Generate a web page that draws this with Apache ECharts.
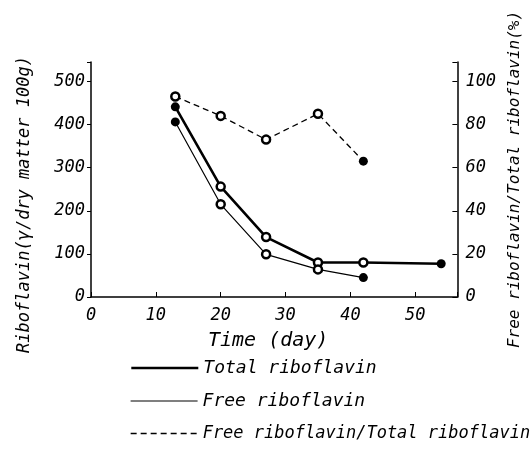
<!DOCTYPE html>
<html>
<head>
<meta charset="utf-8">
<script src="https://cdn.jsdelivr.net/npm/echarts@6/dist/echarts.min.js"></script>
<style>
  html, body { margin: 0; padding: 0; background: #fff; }
  #main { width: 531px; height: 450px; }
</style>
</head>
<body>
<div id="main"></div>
<script>
  // values
  const totalDays = [13, 20, 27, 35, 42, 54];
  const totalRiboflavin = [441, 256, 139, 80, 80, 77];
  const freeDays = [13, 20, 27, 35, 42];
  const freeRiboflavin = [406, 215, 99, 64, 45];
  const ratioDays = [13, 20, 27, 35, 42];
  const ratioPercent = [93, 84, 73, 85, 63];

  const xTicks = [0, 10, 20, 30, 40, 50];
  const leftTicks = [0, 100, 200, 300, 400, 500];
  const rightTicks = [0, 20, 40, 60, 80, 100];
  const seriesNames = ['Total riboflavin', 'Free riboflavin', 'Free riboflavin/Total riboflavin'];

  // the lettering is hand drawn with even spacing, a monospace face is closest
  const font = 'DejaVu Sans Mono';

  // filled dot or ring marker per point
  const filledTotal = [true, false, false, false, false, true];
  const filledFree = [true, false, false, false, true];
  const filledRatio = [false, false, false, false, true];

  function points(days, vals, filled) {
    return days.map((d, i) => ({
      value: [d, vals[i]],
      symbolSize: filled[i] ? 9 : 8,
      itemStyle: filled[i]
        ? { color: '#000', borderWidth: 0 }
        : { color: '#fff', borderColor: '#000', borderWidth: 2.5 },
    }));
  }

  const labelStyle = { fontFamily: font, fontStyle: 'italic', fontSize: 17, color: '#000' };
  const lineWidths = [2.6, 1.2, 1.3];

  // one legend per row so they stack without wrapping
  const legendFont = [18, 18, 17];
  const legends = seriesNames.map((name, i) => ({
    left: 130,
    top: 359 + i * 33,
    padding: 0,
    itemWidth: 67,
    itemHeight: 20,
    itemGap: 0,
    itemStyle: { opacity: 0 },
    lineStyle: { width: lineWidths[i] },
    textStyle: { fontFamily: font, fontStyle: 'italic', fontSize: legendFont[i], color: '#000' },
    data: [name],
  }));

  const myChart = echarts.init(document.getElementById('main'));
  myChart.setOption({
    animation: false,
    backgroundColor: '#fff',
    grid: { left: 91, right: 71, top: 62, bottom: 153 },
    legend: legends,
    xAxis: {
      type: 'value',
      min: 0,
      max: 56.5,
      interval: 10,
      name: 'Time (day)',
      nameLocation: 'middle',
      nameGap: 34,
      nameTextStyle: { fontFamily: font, fontStyle: 'italic', fontSize: 20, color: '#000', padding: [0, 12, 0, 0] },
      splitLine: { show: false },
      axisLine: { lineStyle: { color: '#000', width: 1.5 } },
      axisTick: { inside: true, length: 5, lineStyle: { color: '#000' } },
      axisLabel: Object.assign({
        margin: 10,
        formatter: v => (xTicks.indexOf(v) >= 0 ? String(v) : ''),
      }, labelStyle),
    },
    yAxis: [{
      type: 'value',
      position: 'left',
      min: 0,
      max: 545,
      interval: 100,
      name: 'Riboflavin(γ/dry matter 100g)',
      nameLocation: 'middle',
      nameGap: 58,
      nameTextStyle: { fontFamily: font, fontStyle: 'italic', fontSize: 17, color: '#000', padding: [0, 50, 0, 0] },
      splitLine: { show: false },
      axisLine: { show: true, lineStyle: { color: '#000', width: 1.5 } },
      axisTick: { show: true, length: 4, lineStyle: { color: '#000' } },
      axisLabel: Object.assign({
        margin: 6,
        formatter: v => (leftTicks.indexOf(v) >= 0 ? String(v) : ''),
      }, labelStyle),
    }, {
      type: 'value',
      position: 'right',
      min: 0,
      max: 109,
      interval: 20,
      name: 'Free riboflavin/Total riboflavin(%)',
      nameLocation: 'middle',
      nameGap: 42,
      nameTextStyle: { fontFamily: font, fontStyle: 'italic', fontSize: 16, color: '#000' },
      splitLine: { show: false },
      axisLine: { show: true, lineStyle: { color: '#000', width: 1.5 } },
      axisTick: { show: true, inside: true, length: 5, lineStyle: { color: '#000' } },
      axisLabel: Object.assign({
        margin: 8,
        formatter: v => (rightTicks.indexOf(v) >= 0 ? String(v) : ''),
      }, labelStyle),
    }],
    series: [{
      name: seriesNames[0],
      type: 'line',
      yAxisIndex: 0,
      symbol: 'circle',
      lineStyle: { color: '#000', width: lineWidths[0] },
      itemStyle: { color: '#000' },
      data: points(totalDays, totalRiboflavin, filledTotal),
    }, {
      name: seriesNames[1],
      type: 'line',
      yAxisIndex: 0,
      symbol: 'circle',
      lineStyle: { color: '#000', width: lineWidths[1] },
      itemStyle: { color: '#000' },
      data: points(freeDays, freeRiboflavin, filledFree),
    }, {
      name: seriesNames[2],
      type: 'line',
      yAxisIndex: 1,
      symbol: 'circle',
      lineStyle: { color: '#000', width: lineWidths[2], type: [6, 4] },
      itemStyle: { color: '#000' },
      data: points(ratioDays, ratioPercent, filledRatio),
    }],
  });
</script>
</body>
</html>
